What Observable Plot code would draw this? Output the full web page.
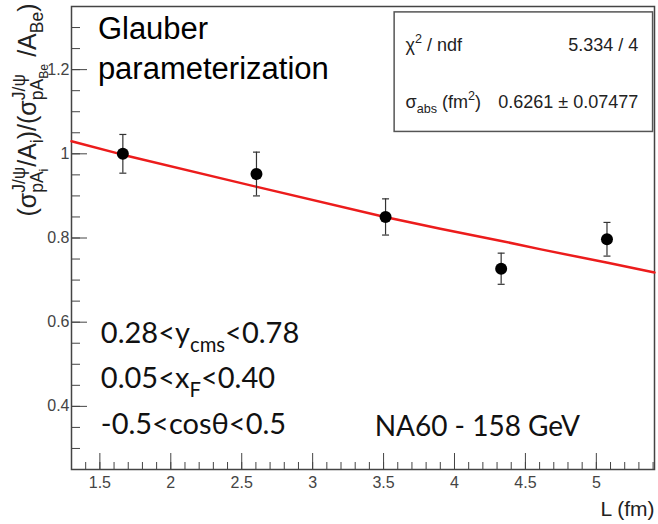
<!DOCTYPE html>
<html><head><meta charset="utf-8">
<script src="https://cdn.jsdelivr.net/npm/d3@7"></script>
<script src="https://cdn.jsdelivr.net/npm/@observablehq/plot@0.6"></script>
<style>body{margin:0;background:#fff;}</style>
</head><body><div id="chart"></div>
<script>
// ---- data ----
const pointL     = [1.662, 2.604, 3.514, 4.329, 5.075];
const pointRatio = [1.000, 0.952, 0.850, 0.727, 0.797];
const pointErr   = [0.046, 0.052, 0.043, 0.037, 0.040];

const fitL     = [1.30, 1.66, 2.60, 3.51, 3.90, 4.33, 4.61, 5.08, 5.41];
const fitRatio = [1.030, 0.998, 0.922, 0.850, 0.822, 0.793, 0.773, 0.741, 0.718];

const xTicks      = [1.5, 2, 2.5, 3, 3.5, 4, 4.5, 5];
const xTickLabels = ["1.5", "2", "2.5", "3", "3.5", "4", "4.5", "5"];
const yTicks      = [0.4, 0.6, 0.8, 1, 1.2];
const yTickLabels = ["0.4", "0.6", "0.8", "1", "1.2"];
const xMinor = d3.range(14, 55).map(i => i / 10);
const yMinor = d3.range(6, 27).map(i => i / 20);

const titleText   = ["Glauber", "parameterization"];
const condText    = ["0.28<y_{cms}<0.78", "0.05<x_{F}<0.40", "-0.5<cosθ<0.5"];
const expText     = ["NA60 - 158 GeV"];
const statsLabels = ["χ^{2} / ndf", "σ_{abs} (fm^{2})"];
const statsValues = ["5.334 / 4", "0.6261 ± 0.07477"];
const xTitle = "L (fm)";
const yTitle = "(σ^{J/ψ}_{pA_{i}}/A_{i})/(σ^{J/ψ}_{pA_{Be}} /A_{Be})";

// ---- build ----
const pts = pointL.map((L, i) => ({L, r: pointRatio[i], lo: pointRatio[i] - pointErr[i], hi: pointRatio[i] + pointErr[i]}));
const fit = fitL.map((L, i) => ({L, r: fitRatio[i]}));
const xLab = new Map(xTicks.map((t, i) => [t, xTickLabels[i]]));
const yLab = new Map(yTicks.map((t, i) => [t, yTickLabels[i]]));
const capSymbol = {draw(ctx, size) { const r = Math.sqrt(size / Math.PI); ctx.moveTo(-r, 0); ctx.lineTo(r, 0); }};
const sans = "'Liberation Sans', Arial, sans-serif";
const humanist = "Lato, 'Open Sans', sans-serif";

const chart = Plot.plot({
  width: 658, height: 524,
  marginLeft: 71, marginRight: 4, marginTop: 6, marginBottom: 55,
  style: {fontFamily: sans, fontSize: "16px", background: "#fff", color: "#333", overflow: "visible"},
  x: {domain: [1.3, 5.41], axis: null},
  y: {domain: [0.25, 1.35], axis: null},
  marks: [
    Plot.axisX({ticks: xMinor, tickSize: -7, fill: "none", label: null, stroke: "#444"}),
    Plot.axisX({ticks: xTicks, tickSize: -16, tickPadding: 23, tickFormat: d => xLab.get(d), label: null, stroke: "#444", fill: "#444"}),
    Plot.axisY({ticks: yMinor, tickSize: -9, fill: "none", label: null, stroke: "#444"}),
    Plot.axisY({ticks: yTicks, tickSize: -16, tickPadding: 18, tickFormat: d => yLab.get(d), label: null, stroke: "#444", fill: "#444"}),
    Plot.frame({stroke: "#444", strokeWidth: 1.5}),
    Plot.line(fit, {x: "L", y: "r", stroke: "#ec1c1c", strokeWidth: 2.5, curve: "linear"}),
    Plot.ruleX(pts, {x: "L", y1: "lo", y2: "hi", stroke: "#333", strokeWidth: 1.2}),
    Plot.dot(pts, {x: "L", y: "lo", symbol: capSymbol, r: 3.5, stroke: "#333", strokeWidth: 1.2, fill: "none"}),
    Plot.dot(pts, {x: "L", y: "hi", symbol: capSymbol, r: 3.5, stroke: "#333", strokeWidth: 1.2, fill: "none"}),
    Plot.dot(pts, {x: "L", y: "r", r: 6, fill: "#000", stroke: "none"}),
    // annotations
    Plot.text([titleText[0]], {x: 1.486, y: 1.272, textAnchor: "start", lineAnchor: "bottom", fontSize: 31, fill: "#000", fontFamily: sans}),
    Plot.text([titleText[1]], {x: 1.486, y: 1.177, textAnchor: "start", lineAnchor: "bottom", fontSize: 31, fill: "#000", fontFamily: sans}),
    Plot.text([condText[0]], {x: 1.507, y: 0.5495, textAnchor: "start", lineAnchor: "bottom", fontSize: 29, fill: "#111", fontFamily: humanist}),
    Plot.text([condText[1]], {x: 1.507, y: 0.4426, textAnchor: "start", lineAnchor: "bottom", fontSize: 29, fill: "#111", fontFamily: humanist}),
    Plot.text([condText[2]], {x: 1.507, y: 0.3334, textAnchor: "start", lineAnchor: "bottom", fontSize: 29, fill: "#111", fontFamily: humanist}),
    Plot.text(expText, {x: 3.437, y: 0.3286, textAnchor: "start", lineAnchor: "bottom", fontSize: 28, fill: "#111", fontFamily: humanist}),
    // stats box
    Plot.rect([0], {x1: 3.578, x2: 5.40, y1: 1.052, y2: 1.336, fill: "#fff", stroke: "#555", strokeWidth: 1.5}),
    Plot.text([statsLabels[0]], {x: 3.655, y: 1.245, textAnchor: "start", lineAnchor: "bottom", fontSize: 18, fill: "#222", fontFamily: sans}),
    Plot.text([statsLabels[1]], {x: 3.655, y: 1.110, textAnchor: "start", lineAnchor: "bottom", fontSize: 18, fill: "#222", fontFamily: sans}),
    Plot.text([statsValues[0]], {x: 5.296, y: 1.245, textAnchor: "end", lineAnchor: "bottom", fontSize: 18, fill: "#222", fontFamily: sans}),
    Plot.text([statsValues[1]], {x: 5.296, y: 1.110, textAnchor: "end", lineAnchor: "bottom", fontSize: 18, fill: "#222", fontFamily: sans}),
    // axis titles
    Plot.text([xTitle], {frameAnchor: "bottom-right", textAnchor: "end", lineAnchor: "bottom", dy: 46, fontSize: 21, fill: "#222", fontFamily: sans}),
    Plot.text([yTitle], {frameAnchor: "top-left", rotate: -90, textAnchor: "end", lineAnchor: "middle", dx: -44, dy: -3, fontSize: 25, fill: "#222", fontFamily: sans})
  ]
});
document.getElementById("chart").append(chart);

// ---- sub/superscript markup -> tspans ----
let gid = 0;
function parseMarkup(s, shift = 0, scale = 1, group = null, out = []) {
  let buf = "", i = 0, prevGroup = null, prevEnd = -1;
  const flush = () => { if (buf) { out.push({t: buf, shift, scale, group}); buf = ""; } };
  while (i < s.length) {
    const c = s[i];
    if ((c === "^" || c === "_") && s[i + 1] === "{") {
      flush();
      let depth = 0, j = i + 1;
      for (; j < s.length; j++) { if (s[j] === "{") depth++; else if (s[j] === "}" && --depth === 0) break; }
      const g = group || {id: ++gid, kind: c};
      if (!group && c === "_" && prevGroup && prevGroup.kind === "^" && prevEnd === i) g.stackOn = prevGroup;
      parseMarkup(s.slice(i + 2, j), shift + (c === "_" ? 0.3 : -0.42) * scale, scale * 0.7, g, out);
      if (!group) { prevGroup = g; prevEnd = j + 1; }
      i = j + 1;
    } else { buf += c; i++; }
  }
  flush();
  return out;
}
function renderMarkup(textEl) {
  const segs = parseMarkup(textEl.textContent);
  const base = parseFloat(getComputedStyle(textEl).fontSize);
  textEl.textContent = "";
  let cur = 0;
  const spans = [];
  for (const sg of segs) {
    const ts = document.createElementNS("http://www.w3.org/2000/svg", "tspan");
    ts.textContent = sg.t;
    ts.setAttribute("font-size", (base * sg.scale).toFixed(2));
    const dy = (sg.shift - cur) * base;
    if (dy) ts.setAttribute("dy", dy.toFixed(2));
    cur = sg.shift;
    textEl.appendChild(ts);
    spans.push({ts, g: sg.group});
  }
  const width = g => spans.filter(s => s.g === g).reduce((a, s) => a + s.ts.getComputedTextLength(), 0);
  for (let k = 0; k < spans.length; k++) {
    const g = spans[k].g;
    if (g && g.stackOn && (k === 0 || spans[k - 1].g !== g)) {
      const wSup = width(g.stackOn), wSub = width(g);
      spans[k].ts.setAttribute("dx", (-wSup).toFixed(2));
      let e = k; while (e + 1 < spans.length && spans[e + 1].g === g) e++;
      if (wSup > wSub && e + 1 < spans.length) spans[e + 1].ts.setAttribute("dx", (wSup - wSub).toFixed(2));
    }
  }
}
chart.querySelectorAll("text").forEach(t => { if (/[\^_]\{/.test(t.textContent)) renderMarkup(t); });
</script>
</body></html>
